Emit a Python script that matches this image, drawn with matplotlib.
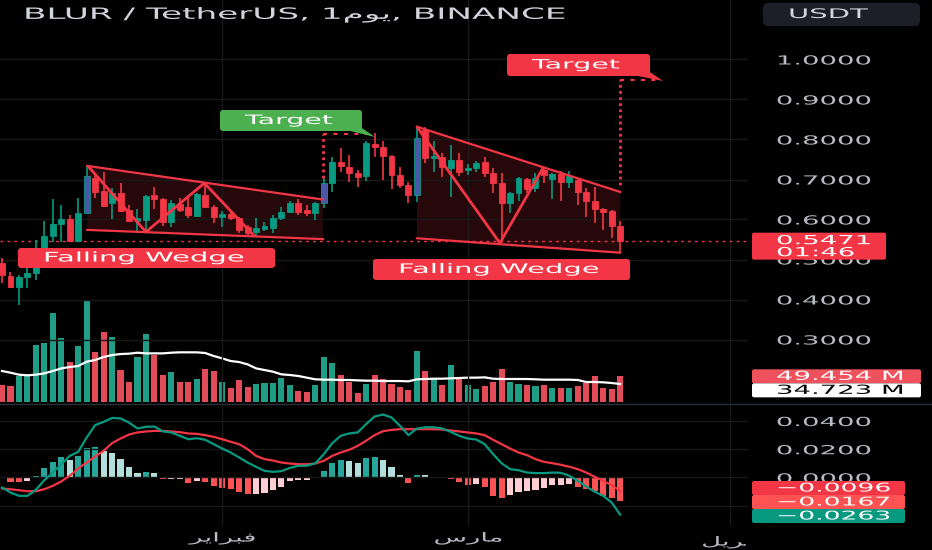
import matplotlib
matplotlib.use("Agg")
import matplotlib.pyplot as plt
from matplotlib.patches import Polygon, FancyBboxPatch
from matplotlib.patheffects import AbstractPathEffect
from matplotlib.transforms import Affine2D, Bbox

W, H = 932, 550
SX = 2.2          # the screenshot is squeezed vertically, so text is drawn wide

# daily candles BLUR/USDT, 6 Jan .. 19 Mar 2024 (index 0 = 6 Jan)
opens = [0.491, 0.459, 0.431, 0.456, 0.466, 0.524, 0.559, 0.589, 0.601, 0.546,
         0.616, 0.704, 0.671, 0.641, 0.666, 0.624, 0.596, 0.599, 0.661, 0.651,
         0.594, 0.639, 0.631, 0.609, 0.661, 0.631, 0.606, 0.614, 0.604, 0.581,
         0.569, 0.576, 0.579, 0.604, 0.619, 0.641, 0.624, 0.616, 0.641, 0.691,
         0.744, 0.731, 0.716, 0.709, 0.789, 0.781, 0.759, 0.711, 0.686, 0.661,
         0.824, 0.754, 0.756, 0.729, 0.749, 0.724, 0.729, 0.744, 0.716, 0.691,
         0.641, 0.666, 0.701, 0.679, 0.724, 0.701, 0.714, 0.694, 0.699, 0.669,
         0.646, 0.626, 0.621, 0.584]
highs = [0.504, 0.469, 0.461, 0.479, 0.549, 0.596, 0.651, 0.636, 0.611, 0.654,
         0.734, 0.716, 0.719, 0.679, 0.691, 0.636, 0.626, 0.661, 0.681, 0.654,
         0.649, 0.654, 0.654, 0.666, 0.691, 0.636, 0.621, 0.621, 0.606, 0.586,
         0.604, 0.594, 0.611, 0.631, 0.646, 0.651, 0.636, 0.644, 0.704, 0.756,
         0.779, 0.761, 0.724, 0.796, 0.816, 0.796, 0.761, 0.731, 0.694, 0.831,
         0.831, 0.796, 0.766, 0.786, 0.766, 0.739, 0.746, 0.756, 0.729, 0.716,
         0.669, 0.706, 0.704, 0.716, 0.731, 0.716, 0.721, 0.721, 0.704, 0.679,
         0.681, 0.629, 0.624, 0.596]
lows = [0.441, 0.429, 0.386, 0.429, 0.449, 0.520, 0.544, 0.544, 0.544, 0.545,
        0.615, 0.654, 0.631, 0.601, 0.619, 0.594, 0.571, 0.566, 0.626, 0.584,
        0.581, 0.619, 0.604, 0.606, 0.629, 0.591, 0.581, 0.599, 0.566, 0.561,
        0.559, 0.571, 0.566, 0.599, 0.616, 0.611, 0.609, 0.599, 0.629, 0.669,
        0.719, 0.694, 0.681, 0.696, 0.756, 0.699, 0.676, 0.679, 0.641, 0.644,
        0.741, 0.719, 0.706, 0.656, 0.709, 0.711, 0.719, 0.706, 0.666, 0.544,
        0.616, 0.646, 0.666, 0.669, 0.691, 0.651, 0.646, 0.679, 0.636, 0.606,
        0.591, 0.574, 0.554, 0.519]
closes = [0.461, 0.431, 0.456, 0.466, 0.524, 0.559, 0.589, 0.601, 0.546, 0.616,
          0.709, 0.669, 0.634, 0.666, 0.621, 0.596, 0.604, 0.659, 0.651, 0.594,
          0.641, 0.624, 0.611, 0.664, 0.631, 0.606, 0.614, 0.604, 0.574, 0.566,
          0.579, 0.584, 0.604, 0.619, 0.641, 0.619, 0.616, 0.641, 0.691, 0.744,
          0.734, 0.716, 0.706, 0.791, 0.781, 0.759, 0.711, 0.686, 0.661, 0.804,
          0.754, 0.759, 0.731, 0.749, 0.719, 0.729, 0.741, 0.716, 0.691, 0.641,
          0.666, 0.704, 0.676, 0.704, 0.711, 0.714, 0.694, 0.709, 0.669, 0.646,
          0.626, 0.619, 0.584, 0.5471]
marked_bars = [10, 38, 49]     # candles coloured blue on the chart
countdown = "01:46"

# volume in millions and its moving average
volume_m = [32.7, 30.8, 50.1, 50.1, 109.1, 113.0, 172.1, 123.9, 77.7, 107.2,
            194.5, 96.9, 134.8, 125.2, 61.0, 37.9, 86.7, 130.3, 90.5, 52.0,
            57.1, 38.5, 39.2, 43.7, 62.9, 59.7, 39.2, 26.3, 41.7, 29.5,
            34.0, 36.0, 37.2, 45.6, 33.4, 20.5, 19.9, 32.1, 87.3, 75.8,
            51.4, 37.9, 18.0, 35.3, 52.6, 44.9, 34.0, 29.5, 23.1, 98.9,
            60.3, 44.9, 33.4, 70.6, 46.9, 32.1, 25.7, 30.2, 37.9, 62.9,
            37.9, 35.3, 32.1, 31.5, 32.1, 27.6, 26.3, 27.6, 30.8, 37.2,
            49.5, 27.6, 24.4, 49.454]
volume_ma = [59.7, 56.5, 52.6, 51.4, 52.6, 55.2, 59.7, 64.8, 67.4, 69.3,
             77.7, 80.9, 86.7, 90.5, 92.4, 93.1, 95.0, 93.7, 93.7, 93.7,
             95.0, 95.7, 95.7, 95.7, 94.4, 88.6, 84.1, 79.0, 77.0, 72.5,
             64.8, 61.6, 58.4, 53.3, 52.0, 50.1, 46.9, 43.7, 43.0, 43.0,
             42.4, 42.4, 41.7, 41.1, 41.1, 40.4, 40.4, 40.4, 39.8, 43.7,
             44.3, 44.9, 44.9, 45.6, 46.2, 46.9, 46.9, 47.5, 44.9, 44.3,
             44.3, 44.3, 44.3, 43.7, 43.0, 43.0, 43.0, 43.0, 42.4, 38.5,
             38.5, 37.9, 36.6, 34.723]

# MACD
macd = [-0.0071, -0.0106, -0.0130, -0.0130, -0.0087, -0.0019, 0.0035, 0.0094, 0.0153, 0.0182,
        0.0283, 0.0371, 0.0394, 0.0422, 0.0418, 0.0389, 0.0347, 0.0359, 0.0361, 0.0326,
        0.0319, 0.0295, 0.0271, 0.0278, 0.0267, 0.0236, 0.0205, 0.0177, 0.0142, 0.0106,
        0.0076, 0.0047, 0.0040, 0.0045, 0.0068, 0.0083, 0.0083, 0.0101, 0.0165, 0.0243,
        0.0295, 0.0312, 0.0319, 0.0378, 0.0432, 0.0446, 0.0425, 0.0366, 0.0300, 0.0347,
        0.0356, 0.0356, 0.0347, 0.0323, 0.0295, 0.0276, 0.0269, 0.0236, 0.0165, 0.0101,
        0.0059, 0.0052, 0.0035, 0.0031, 0.0031, 0.0035, 0.0033, 0.0012, -0.0024, -0.0064,
        -0.0101, -0.0130, -0.0177, -0.0263]
signal = [-0.0078, -0.0083, -0.0090, -0.0097, -0.0097, -0.0083, -0.0059, -0.0028, 0.0012, 0.0064,
          0.0106, 0.0149, 0.0189, 0.0243, 0.0276, 0.0304, 0.0319, 0.0326, 0.0330, 0.0330,
          0.0326, 0.0321, 0.0312, 0.0309, 0.0300, 0.0288, 0.0271, 0.0253, 0.0236, 0.0201,
          0.0153, 0.0130, 0.0120, 0.0106, 0.0099, 0.0094, 0.0094, 0.0099, 0.0118, 0.0153,
          0.0177, 0.0196, 0.0224, 0.0260, 0.0300, 0.0328, 0.0337, 0.0342, 0.0342, 0.0342,
          0.0342, 0.0342, 0.0340, 0.0333, 0.0326, 0.0319, 0.0312, 0.0300, 0.0267, 0.0236,
          0.0205, 0.0177, 0.0158, 0.0130, 0.0111, 0.0101, 0.0090, 0.0076, 0.0059, 0.0035,
          0.0005, -0.0024, -0.0054, -0.0096]
hist = [0.0005, -0.0031, -0.0035, -0.0028, 0.0012, 0.0064, 0.0113, 0.0142, 0.0125, 0.0149,
        0.0212, 0.0219, 0.0189, 0.0177, 0.0130, 0.0071, 0.0031, 0.0040, 0.0035, -0.0012,
        -0.0010, -0.0008, -0.0042, -0.0024, -0.0031, -0.0059, -0.0071, -0.0083, -0.0106, -0.0120,
        -0.0118, -0.0111, -0.0087, -0.0064, -0.0028, -0.0019, -0.0016, 0.0005, 0.0047, 0.0106,
        0.0123, 0.0118, 0.0106, 0.0139, 0.0142, 0.0125, 0.0071, 0.0017, -0.0040, 0.0017,
        0.0015, 0.0007, -0.0007, -0.0012, -0.0035, -0.0050, -0.0048, -0.0064, -0.0130, -0.0146,
        -0.0123, -0.0106, -0.0094, -0.0087, -0.0075, -0.0054, -0.0050, -0.0047, -0.0064, -0.0083,
        -0.0099, -0.0130, -0.0142, -0.0167]

month_ticks = [26, 55, 86]
month_labels = ["\uFEAE\uFEF3\uFE8D\uFEAE\uFE92\uFED3",   # فبراير
                "\uFEB1\uFEAD\uFE8E\uFEE3",                 # مارس
                "\uFEDE\uFEF3\uFEAE\uFE91\uFE83"]           # أبريل
price_ticks = [0.3, 0.4, 0.5, 0.6, 0.7, 0.8, 0.9, 1.0]
macd_ticks = [-0.02, 0.0, 0.02, 0.04]
macd_tick_labels = ["", "0.0000", "0.0200", "0.0400"]   # -0.02 sits under the value boxes
title = "BLUR / TetherUS, 1\uFEE1\uFEEE\uFEF3, BINANCE"

# drawings: falling wedges, zigzags and targets (bar index, price)
wedge1 = [(10.07, 0.734), (37.9, 0.650), (37.9, 0.551), (10.07, 0.574)]
zigzag1 = [(10.3, 0.730), (17.0, 0.569), (23.9, 0.691), (29.7, 0.561)]
wedge2 = [(49.0, 0.832), (73.0, 0.669), (73.0, 0.517), (49.0, 0.553)]
zigzag2 = [(49.1, 0.829), (58.8, 0.541), (63.9, 0.729)]
target1 = [(37.9, 0.704), (37.9, 0.815), (43.2, 0.815)]
target2 = [(73.0, 0.686), (73.0, 0.949), (77.7, 0.949)]

UP, DOWN, BLUE = "#089981", "#f23645", "#4a57a8"
TXT = "#b8bbc4"
plt.rcParams["font.family"] = ["DejaVu Sans"]


class Wide(AbstractPathEffect):
    """stretch text horizontally around its left edge or centre"""
    def __init__(self, sx=SX, anchor="left"):
        super().__init__()
        self.sx = sx
        self.anchor = anchor

    def draw_path(self, renderer, gc, tpath, affine, rgbFace=None):
        v = tpath.vertices
        cx = 0.0
        if self.anchor == "center" and len(v):
            cx = (v[:, 0].min() + v[:, 0].max()) / 2
        t = Affine2D().translate(-cx, 0).scale(self.sx, 1).translate(cx, 0) + affine
        renderer.draw_path(gc, tpath, t, rgbFace)


fig = plt.figure(figsize=(W / 100, H / 100), dpi=100, facecolor="black")
ax = fig.add_axes([0, 1 - 403 / H, 748 / W, 403 / H], zorder=2)
axv = fig.add_axes([0, 1 - 402 / H, 748 / W, 112 / H], zorder=1, sharex=ax)
axm = fig.add_axes([0, 1 - 526 / H, 748 / W, 122 / H], zorder=2, sharex=ax)
ov = fig.add_axes([0, 0, 1, 1], zorder=10)
for a in (ax, axv, axm, ov):
    a.set_facecolor("none")
    for s in a.spines.values():
        s.set_visible(False)

n = len(closes)
xs = list(range(n))
ax.set_xlim(-0.236, 88.1)
ax.set_ylim(0.14125, 1.14875)
axv.set_ylim(0, 215.8)
axm.set_ylim(-0.03435, 0.05205)

# grid
for a in (ax, axm):
    a.set_xticks(month_ticks)
    a.grid(True, color="#191919", lw=1)
ax.set_yticks(price_ticks, [f"{p:.4f}" for p in price_ticks])
axm.set_yticks(macd_ticks, macd_tick_labels)
axm.set_xticklabels(month_labels)
for a in (ax, axm):
    a.yaxis.tick_right()
    a.tick_params(axis="y", length=0, pad=20, labelsize=9, labelcolor=TXT)
    a.tick_params(axis="x", length=0)
ax.tick_params(axis="x", labelbottom=False)
axm.tick_params(axis="x", pad=4, labelsize=9, labelcolor=TXT)
axv.axis("off")
for lab in ax.get_yticklabels() + axm.get_yticklabels():
    lab.set_path_effects([Wide()])
for lab in axm.get_xticklabels():
    lab.set_path_effects([Wide(anchor="center")])
    lab.set_clip_on(True)
    lab.set_clip_box(Bbox.from_extents(0, 0, 746, H))

# wedges
for wedge, zz in ((wedge1, zigzag1), (wedge2, zigzag2)):
    ax.add_patch(Polygon(wedge, closed=True, fc=(0.95, 0.21, 0.27, 0.16), ec="none", zorder=1))
    ax.plot([wedge[0][0], wedge[1][0]], [wedge[0][1], wedge[1][1]], color=DOWN, lw=1.6, zorder=5)
    ax.plot([wedge[3][0], wedge[2][0]], [wedge[3][1], wedge[2][1]], color=DOWN, lw=1.6, zorder=5)
    ax.plot([p[0] for p in zz], [p[1] for p in zz], color=DOWN, lw=2, zorder=5)
for tg in (target1, target2):
    ax.plot([tg[0][0], tg[1][0]], [tg[0][1], tg[1][1]], color=DOWN, lw=2,
            ls=(0, (1, 1.2)), zorder=5)
    ax.plot([tg[1][0], tg[2][0]], [tg[1][1], tg[2][1]], color=DOWN, lw=1.5,
            ls=(0, (2, 3)), zorder=5)

# candles
for i in xs:
    o, c = opens[i], closes[i]
    col = UP if c >= o else DOWN
    ax.vlines(i, lows[i], highs[i], color=col, lw=1.2, zorder=3)
    body = BLUE if i in marked_bars else col
    ax.bar(i, abs(c - o), bottom=min(o, c), width=0.7, color=body,
           edgecolor=col, lw=0.6, zorder=4)
ax.axhline(closes[-1], color=DOWN, lw=1, ls=(0, (2, 3)), zorder=2)

# volume
vcols = ["#22ab94" if closes[i] >= opens[i] else "#f7525f" for i in xs]
axv.bar(xs, volume_m, width=0.72, color=vcols, alpha=0.92)
axv.plot(xs, volume_ma, color="white", lw=1.6)

# MACD
hcols = []
for i, h in enumerate(hist):
    prev = hist[i - 1] if i else h
    if h >= 0:
        hcols.append("#26a69a" if h > prev else "#b2dfdb")
    else:
        hcols.append("#ffcdd2" if h > prev else "#ff5252")
axm.bar(xs, hist, width=0.72, color=hcols)
axm.plot(xs, signal, color=DOWN, lw=1.6)
axm.plot(xs, macd, color=UP, lw=1.6)

# overlay in pixel units
ov.set_xlim(0, W)
ov.set_ylim(H, 0)
ov.axis("off")


def py(a, v):
    return H - a.transData.transform((0, v))[1]


def box(x0, y0, x1, y1, color, r=3):
    ov.add_patch(FancyBboxPatch((x0, y0), x1 - x0, y1 - y0, fc=color, ec="none",
                                boxstyle=f"round,pad=0,rounding_size={r}"))


def label(x, y, s, size=9, color="white", anchor="left"):
    ov.text(x, y, s, fontsize=size, color=color, va="center",
            ha="center" if anchor == "center" else "left",
            path_effects=[Wide(anchor=anchor)])


ov.plot([0, W], [403.5, 403.5], color="#2a2e39", lw=1)
fig.text(23 / W, 1 - 15 / H, title, fontsize=11.2, color="#d1d4dc", va="center",
         path_effects=[Wide()])
box(763, 3, 920, 26, "#1c1f27", r=5)
label(788, 14.5, "USDT", size=9.5, color="#d1d4dc")

# pattern labels
box(18, 248, 275, 268, DOWN)
label(43, 258, "Falling Wedge", size=9.5)
box(373, 259, 630, 280, DOWN)
label(398, 269.5, "Falling Wedge", size=9.5)
box(220, 110, 362, 131, "#4caf50")
ov.add_patch(Polygon([(356, 124), (375, 137), (350, 131)], fc="#4caf50", ec="none"))
label(245, 120.5, "Target", size=9.3)
box(507, 54, 650, 76, DOWN)
ov.add_patch(Polygon([(644, 68), (663, 81), (638, 76)], fc=DOWN, ec="none"))
label(532, 65, "Target", size=9.3)

# last price label
yc = py(ax, closes[-1])
box(752, yc - 8, 886, yc + 19, DOWN, r=2)
label(776, yc, f"{closes[-1]:.4f}", size=9)
label(776, yc + 12, countdown, size=9)


def stack(centers, limit, h=14):
    out = []
    for c in centers:
        out.append(max(c, out[-1] + h) if out else c)
    shift = max(0, out[-1] + h / 2 - limit)
    return [c - shift for c in out]


# volume labels
vy = stack([py(axv, volume_m[-1]), py(axv, volume_ma[-1])], 400)
for y, v, fc, tc in zip(vy, (volume_m[-1], volume_ma[-1]), ("#f0525d", "white"),
                        ("white", "black")):
    box(752, y - 7, 921, y + 7, fc, r=2)
    label(776, y, f"{v:.3f} M", size=9, color=tc)

# MACD labels
my = stack([py(axm, signal[-1]), py(axm, hist[-1]), py(axm, macd[-1])], 523)
for y, v, fc in zip(my, (signal[-1], hist[-1], macd[-1]), (DOWN, "#ff5252", UP)):
    box(752, y - 7, 905, y + 7, fc, r=2)
    label(776, y, f"{v:.4f}".replace("-", "\u2212"), size=8.7)

fig.savefig("out.png", dpi=100, facecolor="black")
